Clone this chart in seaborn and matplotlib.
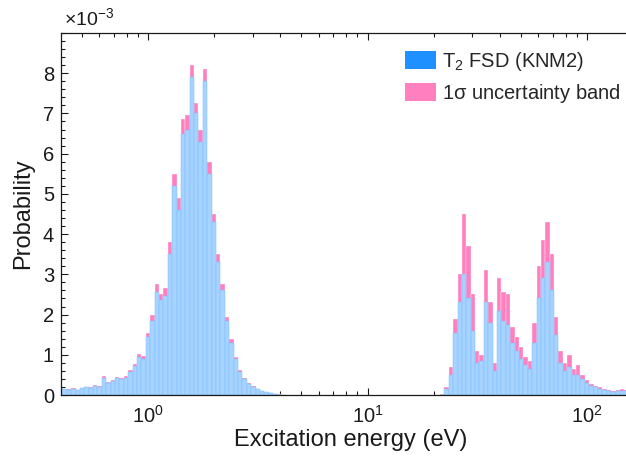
import numpy as np
import pandas as pd
import matplotlib
matplotlib.use("Agg")
import matplotlib.pyplot as plt
from matplotlib.patches import Patch
from matplotlib.ticker import MultipleLocator, FixedLocator, LogLocator, NullFormatter
import seaborn as sns

# ---------------- data (probabilities in units of 1e-3) ----------------
# electronic ground-state region
E_low = [0.398, 0.417, 0.437, 0.457, 0.479, 0.501, 0.525, 0.550, 0.575, 0.603,
         0.631, 0.661, 0.692, 0.724, 0.759, 0.794, 0.832, 0.871, 0.912, 0.955,
         1.000, 1.047, 1.096, 1.148, 1.202, 1.259, 1.318, 1.380, 1.445, 1.514,
         1.585, 1.660, 1.738, 1.820, 1.905, 1.995, 2.089, 2.188, 2.291, 2.399,
         2.512, 2.630, 2.754, 2.884, 3.020, 3.162, 3.311, 3.467, 3.631, 3.802,
         3.981, 4.169]
P_low = [0.12, 0.15, 0.13, 0.16, 0.12, 0.17, 0.19, 0.18, 0.22, 0.20,
         0.42, 0.30, 0.36, 0.42, 0.40, 0.43, 0.58, 0.72, 0.95, 0.90,
         1.45, 1.85, 2.55, 2.35, 2.45, 3.50, 5.20, 4.60, 6.50, 6.60,
         7.90, 7.00, 6.30, 7.80, 5.50, 4.30, 3.30, 2.60, 1.85, 1.30,
         0.90, 0.58, 0.40, 0.28, 0.20, 0.15, 0.10, 0.07, 0.04, 0.025,
         0.012, 0.005]
U_low = [0.01, 0.01, 0.01, 0.01, 0.01, 0.01, 0.01, 0.01, 0.02, 0.02,
         0.04, 0.02, 0.02, 0.03, 0.03, 0.03, 0.04, 0.06, 0.07, 0.06,
         0.10, 0.13, 0.20, 0.15, 0.20, 0.30, 0.30, 0.30, 0.35, 0.35,
         0.30, 0.25, 0.30, 0.30, 0.30, 0.20, 0.20, 0.15, 0.10, 0.08,
         0.05, 0.04, 0.03, 0.02, 0.02, 0.01, 0.01, 0.005, 0.005, 0.003,
         0.002, 0.001]

# excited-state / continuum region
E_high = [21.88, 22.91, 23.99, 25.12, 26.30, 27.54, 28.84, 30.20, 31.62, 33.11,
          34.67, 36.31, 38.02, 39.81, 41.69, 43.65, 45.71, 47.86, 50.12, 52.48,
          54.95, 57.54, 60.26, 63.10, 66.07, 69.18, 72.44, 75.86, 79.43, 83.18,
          87.10, 91.20, 95.50, 100.0, 104.7, 109.6, 114.8, 120.2, 125.9, 131.8,
          138.0, 144.5, 151.4]
P_high = [0.01, 0.15, 0.50, 1.55, 2.30, 3.00, 2.40, 1.60, 0.80, 0.85,
          2.30, 1.80, 0.60, 2.10, 1.85, 1.75, 1.30, 1.10, 0.90, 0.75,
          0.65, 1.30, 2.40, 2.90, 3.30, 2.60, 1.50, 0.80, 0.60, 0.70,
          0.50, 0.50, 0.40, 0.30, 0.22, 0.19, 0.16, 0.12, 0.10, 0.07,
          0.10, 0.11, 0.10]
U_high = [0.005, 0.05, 0.20, 0.35, 0.70, 1.50, 1.30, 0.90, 0.30, 0.15,
          0.80, 0.50, 0.20, 0.80, 0.70, 0.75, 0.40, 0.35, 0.30, 0.20,
          0.20, 0.50, 0.80, 0.95, 1.00, 0.90, 0.45, 0.30, 0.20, 0.30,
          0.15, 0.25, 0.10, 0.07, 0.05, 0.04, 0.04, 0.03, 0.03, 0.02,
          0.03, 0.04, 0.03]

y_ticks = [0, 1, 2, 3, 4, 5, 6, 7, 8]
legend_labels = ["T$_2$ FSD (KNM2)", "1$\\sigma$ uncertainty band"]
x_label = "Excitation energy (eV)"
y_label = "Probability"

# ---------------- style ----------------
sns.set_style("ticks")
plt.rcParams["font.family"] = ["Liberation Sans", "DejaVu Sans"]
plt.rcParams["mathtext.fontset"] = "custom"
plt.rcParams["mathtext.rm"] = "Liberation Sans"
plt.rcParams["mathtext.it"] = "Liberation Sans:italic"
plt.rcParams["mathtext.default"] = "regular"

BLUE = "#1E90FF"
BLUE_FILL = "#A6D3FF"
PINK = "#FF7FBF"
INK = "#1a1a1a"

W, H = 626, 465
fig = plt.figure(figsize=(W / 100, H / 100), dpi=100)
ax_left, ax_right, ax_top, ax_bot = 61, 640, 33, 395
ax = fig.add_axes([ax_left / W, 1 - ax_bot / H, (ax_right - ax_left) / W, (ax_bot - ax_top) / H])

def draw(E, vals, color, edge, lw):
    lo, hi = np.log10(E[0]), np.log10(E[-1])
    half = (hi - lo) / (len(E) - 1) / 2
    sns.histplot(x=E, weights=vals, bins=len(E), binrange=(lo - half, hi + half),
                 log_scale=True, color=color, alpha=1.0, edgecolor=edge,
                 linewidth=lw, ax=ax)

for E, P, U in [(E_low, P_low, U_low), (E_high, P_high, U_high)]:
    top = [p + u for p, u in zip(P, U)]
    draw(E, top, PINK, "white", 0.25)
    draw(E, P, BLUE_FILL, "#7CBDFF", 0.35)

xl = (10 ** ((ax_left - 148) / 219.5), 10 ** ((ax_right - 148) / 219.5))
ax.set_xscale("log")
ax.set_xlim(*xl)
ax.set_ylim(0, 9)

ax.yaxis.set_major_locator(FixedLocator(y_ticks))
ax.yaxis.set_minor_locator(MultipleLocator(0.2))
ax.xaxis.set_major_locator(LogLocator(base=10, numticks=10))
ax.xaxis.set_minor_locator(LogLocator(base=10, subs=np.arange(2, 10), numticks=20))
ax.xaxis.set_minor_formatter(NullFormatter())

for s in ax.spines.values():
    s.set_visible(True)
    s.set_color(INK)
    s.set_linewidth(0.9)

ax.tick_params(which="both", direction="in", top=True, right=True, colors=INK,
               labelsize=14.5, width=0.8)
ax.tick_params(which="major", length=5)
ax.tick_params(which="minor", length=2.8)
ax.tick_params(axis="y", pad=5)
ax.tick_params(axis="x", pad=7)

ax.set_xlabel(x_label, fontsize=17, color=INK, labelpad=2)
ax.set_ylabel(y_label, fontsize=17, color=INK, labelpad=6)

fig.text(64 / W, 1 - 18 / H, "$\\times$10$^{-3}$", fontsize=14, color=INK,
         ha="left", va="center")

handles = [Patch(facecolor=BLUE, edgecolor="none"), Patch(facecolor=PINK, edgecolor="none")]
ax.legend(handles, legend_labels, loc="upper left", bbox_to_anchor=(405 / W, 1 - 50 / H),
          bbox_transform=fig.transFigure, frameon=False, fontsize=14.5,
          handlelength=1.55, handleheight=0.95, handletextpad=0.3,
          labelspacing=0.45, borderpad=0, borderaxespad=0)

fig.savefig("out.png", dpi=100)
